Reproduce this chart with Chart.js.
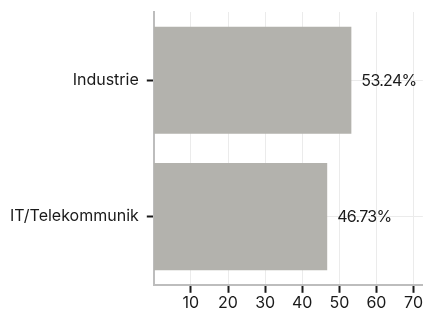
<!DOCTYPE html>
<html>
<head>
<meta charset="utf-8">
<script src="https://cdn.jsdelivr.net/npm/chart.js@4"></script>
<style>
  html, body { margin: 0; padding: 0; background: #fff; }
  #wrap { width: 424px; height: 312px; }
</style>
</head>
<body>
<div id="wrap"><canvas id="myChart"></canvas></div>
<script>
// data
var categories = ['Industrie', 'IT/Telekommunik'];
var shares = [53.24, 46.73];
var shareLabels = ['53.24%', '46.73%'];
var xTicks = [10, 20, 30, 40, 50, 60, 70];

var textColor = '#1a1a1a';
var fontFamily = 'Inter, "Noto Sans", sans-serif';

// draws the percent text just right of each bar
var valueLabels = {
	id: 'valueLabels',
	afterDatasetsDraw: function(chart) {
		var ctx = chart.ctx;
		var meta = chart.getDatasetMeta(0);
		ctx.save();
		ctx.font = '16px ' + fontFamily;
		ctx.letterSpacing = '-0.7px';
		ctx.fillStyle = textColor;
		ctx.textAlign = 'left';
		ctx.textBaseline = 'middle';
		meta.data.forEach(function(bar, i) {
			ctx.fillText(shareLabels[i], bar.x + 10, bar.y + 1);
		});
		ctx.restore();
	}
};

var myChart = document.getElementById('myChart').getContext('2d');
var ShareChart = new Chart(myChart, {
	type: 'bar',
	data: {
		labels: categories,
		datasets: [{
			label: 'Anteil',
			data: shares,
			backgroundColor: 'rgb(179, 178, 173)',
			borderWidth: 0,
			categoryPercentage: 0.785,
			barPercentage: 1
		}]
	},
	options: {
		indexAxis: 'y',
		responsive: true,
		maintainAspectRatio: false,
		animation: false,
		layout: { padding: { top: 0, left: 2, right: 0, bottom: -2 } },
		plugins: {
			legend: { display: false },
			tooltip: { enabled: false }
		},
		scales: {
			x: {
				min: 0,
				max: 72.5,
				afterBuildTicks: function(scale) {
					scale.ticks = xTicks.map(function(v) { return { value: v }; });
				},
				grid: {
					color: '#ebebeb',
					tickColor: '#1a1a1a',
					tickLength: 8,
					lineWidth: 1,
					tickWidth: 2
				},
				border: { color: '#bdbdbd', width: 2 },
				ticks: {
					color: textColor,
					font: { family: fontFamily, size: 16 },
					padding: 1,
					maxRotation: 0
				}
			},
			y: {
				grid: {
					offset: false,
					color: '#ebebeb',
					tickColor: '#1a1a1a',
					tickLength: 7,
					tickWidth: 2
				},
				border: { color: '#bdbdbd', width: 2 },
				ticks: {
					color: textColor,
					font: { family: fontFamily, size: 16, lineHeight: 0.5 },
					padding: 8
				}
			}
		}
	},
	plugins: [valueLabels]
});
</script>
</body>
</html>
